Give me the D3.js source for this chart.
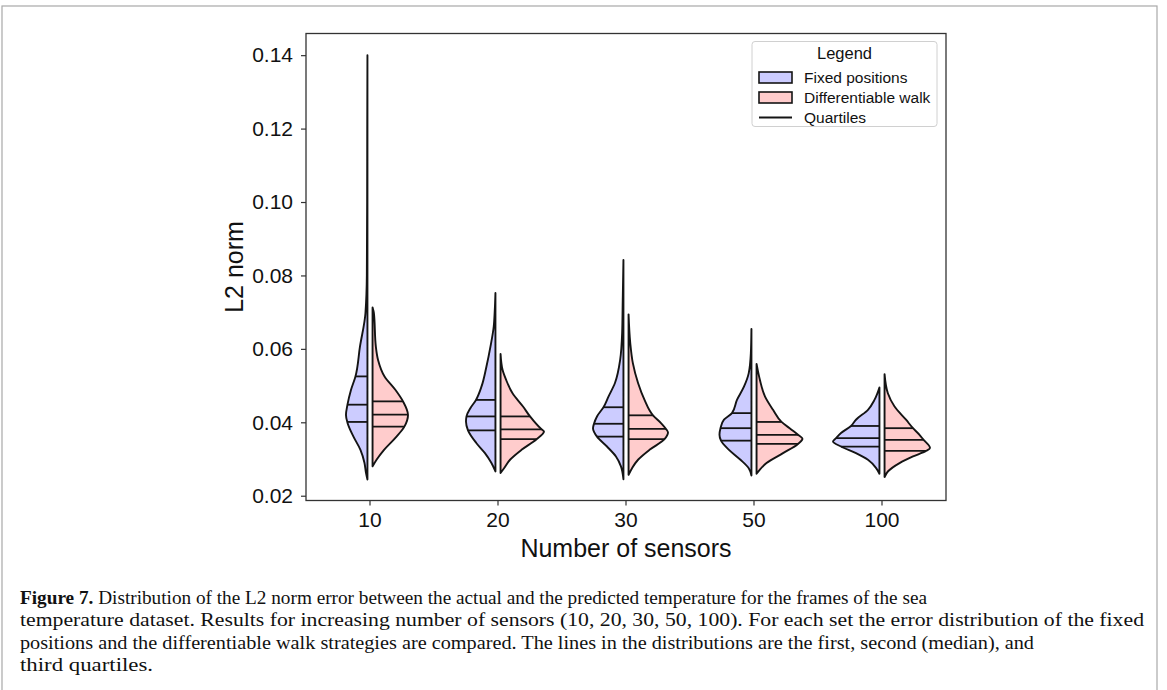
<!DOCTYPE html>
<html>
<head>
<meta charset="utf-8">
<script src="https://cdn.jsdelivr.net/npm/d3@7"></script>
<style>
  body { margin: 0; background: #fff; }
  svg text { font-family: "Liberation Sans", Arial, sans-serif; fill: #111; }
</style>
</head>
<body>
<script>
// ---- data ----
var categories = ["10", "20", "30", "50", "100"];
var groups = ["Fixed positions", "Differentiable walk"];
var yTicks = [0.02, 0.04, 0.06, 0.08, 0.10, 0.12, 0.14];

// density profiles: [L2 norm, relative density]
var fixedProfiles = [
  [[0.1400,0],[0.1200,0.004],[0.1000,0.006],[0.0801,0.012],[0.0697,0.04],[0.0606,0.15],[0.0525,0.24],[0.0488,0.33],[0.0448,0.40],[0.0420,0.43],[0.0399,0.40],[0.0361,0.28],[0.0325,0.14],[0.0290,0.06],[0.0263,0.03],[0.0244,0]],
  [[0.0752,0],[0.0700,0.015],[0.0661,0.034],[0.0606,0.10],[0.0552,0.18],[0.0497,0.28],[0.0461,0.39],[0.0439,0.50],[0.0416,0.58],[0.0402,0.59],[0.0378,0.55],[0.0343,0.38],[0.0316,0.21],[0.0289,0.08],[0.0266,0]],
  [[0.0842,0],[0.0733,0.014],[0.0643,0.026],[0.0570,0.066],[0.0507,0.17],[0.0470,0.30],[0.0441,0.40],[0.0416,0.53],[0.0396,0.59],[0.0384,0.61],[0.0361,0.53],[0.0334,0.33],[0.0307,0.15],[0.0280,0.05],[0.0245,0]],
  [[0.0654,0],[0.0588,0.012],[0.0534,0.054],[0.0497,0.15],[0.0461,0.29],[0.0425,0.39],[0.0407,0.55],[0.0384,0.62],[0.0366,0.64],[0.0350,0.61],[0.0325,0.45],[0.0298,0.22],[0.0275,0.054],[0.0255,0]],
  [[0.0495,0],[0.0461,0.10],[0.0434,0.23],[0.0407,0.47],[0.0390,0.57],[0.0371,0.77],[0.0357,0.87],[0.0348,0.93],[0.0334,0.77],[0.0316,0.47],[0.0298,0.23],[0.0275,0.066],[0.0260,0]]
];
var walkProfiles = [
  [[0.0713,0],[0.0698,0.026],[0.0606,0.066],[0.0570,0.11],[0.0525,0.24],[0.0488,0.46],[0.0457,0.61],[0.0420,0.71],[0.0389,0.64],[0.0361,0.48],[0.0325,0.23],[0.0298,0.08],[0.0280,0]],
  [[0.0586,0],[0.0543,0.04],[0.0516,0.11],[0.0479,0.24],[0.0443,0.45],[0.0416,0.59],[0.0381,0.82],[0.0375,0.87],[0.0354,0.72],[0.0325,0.42],[0.0298,0.19],[0.0275,0.07],[0.0262,0]],
  [[0.0694,0],[0.0616,0.034],[0.0561,0.086],[0.0507,0.19],[0.0461,0.32],[0.0419,0.49],[0.0398,0.65],[0.0382,0.75],[0.0372,0.79],[0.0354,0.72],[0.0325,0.42],[0.0298,0.19],[0.0275,0.07],[0.0257,0]],
  [[0.0559,0],[0.0516,0.066],[0.0470,0.17],[0.0434,0.33],[0.0401,0.50],[0.0380,0.70],[0.0366,0.83],[0.0355,0.92],[0.0341,0.83],[0.0316,0.53],[0.0289,0.20],[0.0271,0.066],[0.0260,0]],
  [[0.0531,0],[0.0479,0.066],[0.0443,0.20],[0.0407,0.43],[0.0384,0.57],[0.0366,0.70],[0.0354,0.77],[0.0330,0.91],[0.0322,0.83],[0.0307,0.57],[0.0289,0.30],[0.0266,0.066],[0.0251,0]]
];
// first, second, third quartiles
var fixedQuartiles = [[0.0401,0.0448,0.0525],[0.0378,0.0416,0.0461],[0.0361,0.0396,0.0441],[0.0350,0.0384,0.0425],[0.0334,0.0357,0.0390]];
var walkQuartiles  = [[0.0388,0.0421,0.0457],[0.0354,0.0381,0.0416],[0.0354,0.0382,0.0419],[0.0341,0.0366,0.0401],[0.0322,0.0352,0.0384]];

var captionLines = [
  "Distribution of the L2 norm error between the actual and the predicted temperature for the frames of the sea",
  "temperature dataset. Results for increasing number of sensors (10, 20, 30, 50, 100). For each set the error distribution of the fixed",
  "positions and the differentiable walk strategies are compared. The lines in the distributions are the first, second (median), and",
  "third quartiles."
];
var captionWidths = [907, 1124, 1014, 133];

function plot_it () {
  var colors = ["#ccccff", "#ffcccc"];
  var ink = "#141414";

  var width = 1167, height = 690;
  var svg = d3.select('body').append('svg').attr('width', width).attr('height', height);

  // page frame
  svg.append('rect').attr('x', 2).attr('y', 6).attr('width', 1155).attr('height', 720)
    .attr('fill', 'none').attr('stroke', '#a8a8a8').attr('stroke-width', 1.2);

  var pLeft = 306, pRight = 946, pTop = 33.5, pBottom = 500.5;

  var x = d3.scaleBand().domain(categories).range([pLeft, pRight]).padding(0);
  var y = d3.scaleLinear().domain([0.0187, 0.1459]).range([pBottom, pTop]);
  var w = d3.scaleLinear().domain([0, 1]).range([0, x.bandwidth() * 0.39]);
  var gap = x.bandwidth() * 0.02;

  function densityAt(profile, v) {
    for (var i = 0; i < profile.length - 1; i++) {
      var a = profile[i], b = profile[i + 1];
      if (v <= a[0] && v >= b[0]) {
        return a[1] + (b[1] - a[1]) * (a[0] - v) / (a[0] - b[0]);
      }
    }
    return 0;
  }

  var plot = svg.append('g');

  categories.forEach(function (c, i) {
    var cx = x(c) + x.bandwidth() / 2;
    [[fixedProfiles[i], fixedQuartiles[i], -1, colors[0]],
     [walkProfiles[i], walkQuartiles[i], 1, colors[1]]].forEach(function (h) {
      var prof = h[0], quart = h[1], side = h[2];
      var area = d3.area()
        .curve(d3.curveMonotoneY)
        .y(function (d) { return y(d[0]); })
        .x0(function () { return cx + side * gap; })
        .x1(function (d) { return cx + side * (gap + w(d[1])); });
      plot.append('path')
        .attr('d', area(prof))
        .attr('fill', h[3])
        .attr('stroke', ink)
        .attr('stroke-width', 1.9)
        .attr('stroke-linejoin', 'round');
      quart.forEach(function (q) {
        plot.append('line')
          .attr('x1', cx + side * gap)
          .attr('x2', cx + side * (gap + w(densityAt(prof, q))))
          .attr('y1', y(q)).attr('y2', y(q))
          .attr('stroke', ink).attr('stroke-width', 1.8);
      });
    });
  });

  // axes
  var yAxis = svg.append('g').attr('transform', 'translate(' + pLeft + ',0)')
    .call(d3.axisLeft(y).tickValues(yTicks).tickFormat(d3.format('.2f')).tickSize(5).tickPadding(8));
  var xAxis = svg.append('g').attr('transform', 'translate(0,' + pBottom + ')')
    .call(d3.axisBottom(x).tickSize(5).tickPadding(7));
  [yAxis, xAxis].forEach(function (a) {
    a.select('.domain').remove();
    a.selectAll('line').attr('stroke', '#333').attr('stroke-width', 1.2);
    a.selectAll('text').attr('font-size', 21).attr('fill', '#111')
      .attr('font-family', '"Liberation Sans", Arial, sans-serif');
  });

  svg.append('rect').attr('x', pLeft).attr('y', pTop)
    .attr('width', pRight - pLeft).attr('height', pBottom - pTop)
    .attr('fill', 'none').attr('stroke', '#333').attr('stroke-width', 1.3);

  svg.append('text')
    .attr('transform', 'translate(243,267) rotate(-90)')
    .attr('text-anchor', 'middle').attr('font-size', 25)
    .text('L2 norm');

  svg.append('text')
    .attr('x', (pLeft + pRight) / 2).attr('y', 557)
    .attr('text-anchor', 'middle').attr('font-size', 25)
    .text('Number of sensors');

  // legend
  var lg = svg.append('g').attr('transform', 'translate(752,41.5)');
  lg.append('rect').attr('width', 185).attr('height', 85).attr('rx', 3)
    .attr('fill', '#fff').attr('stroke', '#d0d0d0').attr('stroke-width', 1);
  lg.append('text').attr('x', 92.5).attr('y', 17.5).attr('text-anchor', 'middle')
    .attr('font-size', 16.5).text('Legend');
  groups.forEach(function (g, i) {
    var yy = 36 + i * 20;
    lg.append('rect').attr('x', 7).attr('y', yy - 5.5).attr('width', 33).attr('height', 11)
      .attr('fill', colors[i]).attr('stroke', ink).attr('stroke-width', 1.6);
    lg.append('text').attr('x', 52).attr('y', yy + 5.5).attr('font-size', 15.5).text(g);
  });
  lg.append('line').attr('x1', 7).attr('x2', 40).attr('y1', 76).attr('y2', 76)
    .attr('stroke', ink).attr('stroke-width', 1.8);
  lg.append('text').attr('x', 52).attr('y', 81.5).attr('font-size', 15.5).text('Quartiles');

  // caption
  var cap = svg.append('g');
  captionLines.forEach(function (t, i) {
    var tx = cap.append('text').attr('x', 20).attr('y', 603.5 + i * 22.5)
      .attr('font-size', 19)
      .attr('textLength', captionWidths[i])
      .attr('lengthAdjust', 'spacingAndGlyphs')
      .style('font-family', '"Liberation Serif", "Times New Roman", serif');
    if (i === 0) {
      tx.append('tspan').attr('font-weight', 'bold').text('Figure 7.');
      tx.append('tspan').text(' ' + t);
    } else {
      tx.text(t);
    }
  });
}

plot_it();
</script>
</body>
</html>
